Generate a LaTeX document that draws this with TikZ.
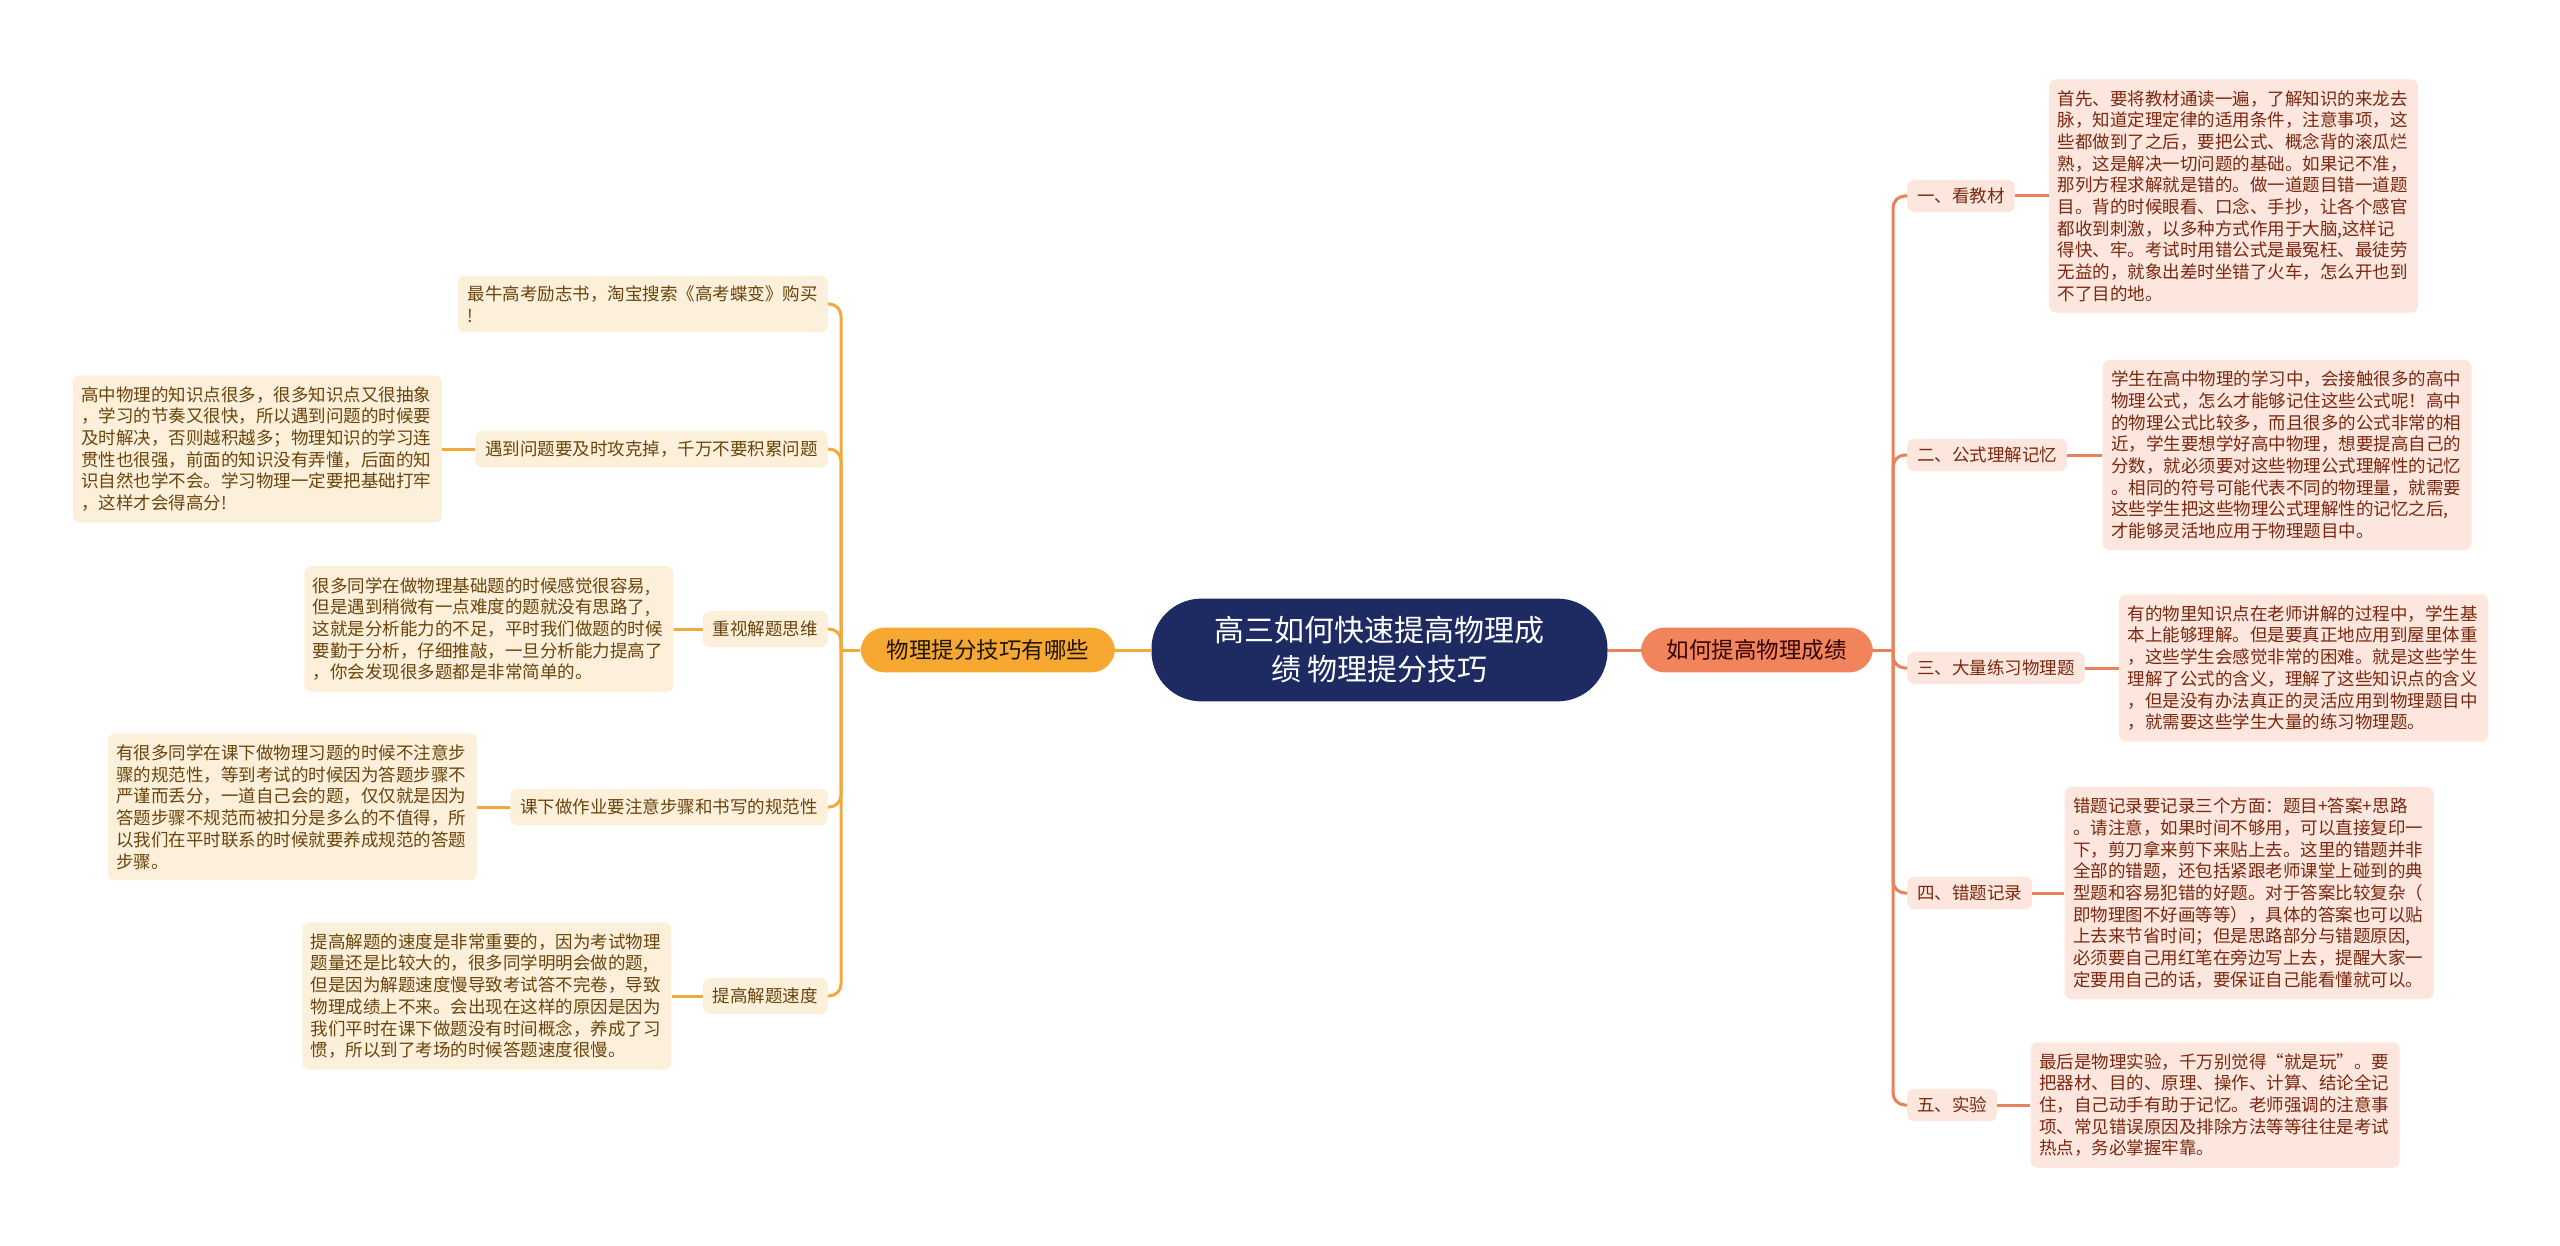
\documentclass[tikz,border=0pt]{standalone}
\usepackage{fontspec}
\newfontfamily\cjk{Noto Sans CJK SC}
\usetikzlibrary{positioning}
\definecolor{navy}{HTML}{1E2A62}
\definecolor{orangem}{HTML}{F6A830}
\definecolor{coralm}{HTML}{F2845C}
\definecolor{lfill}{HTML}{FDF0DA}
\definecolor{rfill}{HTML}{FCE6DD}
\definecolor{ltext}{HTML}{6A440C}
\definecolor{rtext}{HTML}{7A2810}
\definecolor{lcol}{HTML}{F2A93B}
\definecolor{rcol}{HTML}{E8825A}
\tikzset{
  centrenode/.style={fill=navy, text=white, rounded corners=50pt, inner xsep=63pt, inner ysep=18pt, align=center, font=\cjk\fontsize{30}{39}\selectfont},
  mainl/.style={fill=orangem, text=black!85!brown, rounded corners=24pt, inner xsep=26pt, inner ysep=12pt, font=\cjk\fontsize{22.5}{27}\selectfont},
  mainr/.style={fill=coralm, text=black!80!red, rounded corners=24pt, inner xsep=26pt, inner ysep=12pt, font=\cjk\fontsize{22.5}{27}\selectfont},
  lbranch/.style={fill=lfill, text=ltext, rounded corners=7pt, inner xsep=10pt, inner ysep=10pt, align=left, font=\cjk\fontsize{17.5}{21.7}\selectfont},
  rbranch/.style={fill=rfill, text=rtext, rounded corners=7pt, inner xsep=10pt, inner ysep=8pt, font=\cjk\fontsize{17.5}{21.7}\selectfont},
  lleaf/.style={fill=lfill, text=ltext, rounded corners=7pt, inner xsep=8.5pt, inner ysep=11pt, text width=352pt, align=left, font=\cjk\fontsize{17.5}{21.7}\selectfont},
  rleaf/.style={lleaf, fill=rfill, text=rtext},
  lline/.style={draw=lcol, line width=3pt},
  rline/.style={draw=rcol, line width=3pt}
}
\begin{document}
\begin{tikzpicture}[x=1pt,y=1pt]
\path[fill=white, use as bounding box] (0,0) rectangle (2560,-1246);

\node[centrenode] (centre) at (1379.5,-650) {高三如何快速提高物理成\\绩 物理提分技巧};
\node[mainl, left=36pt of centre] (mainL) {物理提分技巧有哪些};
\node[mainr, right=33pt of centre] (mainR) {如何提高物理成绩};

\node[lbranch, anchor=east] (l1) at (828,-304) {最牛高考励志书，淘宝搜索《高考蝶变》购买\\!};
\node[lbranch, anchor=east] (l2) at (828,-449) {遇到问题要及时攻克掉，千万不要积累问题};
\node[lbranch, anchor=east] (l3) at (828,-629) {重视解题思维};
\node[lbranch, anchor=east] (l4) at (828,-807) {课下做作业要注意步骤和书写的规范性};
\node[lbranch, anchor=east] (l5) at (828,-996) {提高解题速度};

\node[lleaf, left=33pt of l2] (ll2) {高中物理的知识点很多，很多知识点又很抽象\\，学习的节奏又很快，所以遇到问题的时候要\\及时解决，否则越积越多；物理知识的学习连\\贯性也很强，前面的知识没有弄懂，后面的知\\识自然也学不会。学习物理一定要把基础打牢\\，这样才会得高分!};
\node[lleaf, left=29pt of l3] (ll3) {很多同学在做物理基础题的时候感觉很容易,\\但是遇到稍微有一点难度的题就没有思路了,\\这就是分析能力的不足，平时我们做题的时候\\要勤于分析，仔细推敲，一旦分析能力提高了\\，你会发现很多题都是非常简单的。};
\node[lleaf, left=33pt of l4] (ll4) {有很多同学在课下做物理习题的时候不注意步\\骤的规范性，等到考试的时候因为答题步骤不\\严谨而丢分，一道自己会的题，仅仅就是因为\\答题步骤不规范而被扣分是多么的不值得，所\\以我们在平时联系的时候就要养成规范的答题\\步骤。};
\node[lleaf, left=31pt of l5] (ll5) {提高解题的速度是非常重要的，因为考试物理\\题量还是比较大的，很多同学明明会做的题,\\但是因为解题速度慢导致考试答不完卷，导致\\物理成绩上不来。会出现在这样的原因是因为\\我们平时在课下做题没有时间概念，养成了习\\惯，所以到了考场的时候答题速度很慢。};

\node[rbranch, anchor=west] (r1) at (1907,-196) {一、看教材};
\node[rbranch, anchor=west] (r2) at (1907,-455) {二、公式理解记忆};
\node[rbranch, anchor=west] (r3) at (1907,-668) {三、大量练习物理题};
\node[rbranch, anchor=west] (r4) at (1907,-893) {四、错题记录};
\node[rbranch, anchor=west] (r5) at (1907,-1105) {五、实验};

\node[rleaf, right=34pt of r1] (rl1) {首先、要将教材通读一遍，了解知识的来龙去\\脉，知道定理定律的适用条件，注意事项，这\\些都做到了之后，要把公式、概念背的滚瓜烂\\熟，这是解决一切问题的基础。如果记不准，\\那列方程求解就是错的。做一道题目错一道题\\目。背的时候眼看、口念、手抄，让各个感官\\都收到刺激，以多种方式作用于大脑,这样记\\得快、牢。考试时用错公式是最冤枉、最徒劳\\无益的，就象出差时坐错了火车，怎么开也到\\不了目的地。};
\node[rleaf, right=35pt of r2] (rl2) {学生在高中物理的学习中，会接触很多的高中\\物理公式，怎么才能够记住这些公式呢！高中\\的物理公式比较多，而且很多的公式非常的相\\近，学生要想学好高中物理，想要提高自己的\\分数，就必须要对这些物理公式理解性的记忆\\。相同的符号可能代表不同的物理量，就需要\\这些学生把这些物理公式理解性的记忆之后,\\才能够灵活地应用于物理题目中。};
\node[rleaf, right=34pt of r3] (rl3) {有的物里知识点在老师讲解的过程中，学生基\\本上能够理解。但是要真正地应用到屋里体重\\，这些学生会感觉非常的困难。就是这些学生\\理解了公式的含义，理解了这些知识点的含义\\，但是没有办法真正的灵活应用到物理题目中\\，就需要这些学生大量的练习物理题。};
\node[rleaf, right=32pt of r4] (rl4) {错题记录要记录三个方面：题目+答案+思路\\。请注意，如果时间不够用，可以直接复印一\\下，剪刀拿来剪下来贴上去。这里的错题并非\\全部的错题，还包括紧跟老师课堂上碰到的典\\型题和容易犯错的好题。对于答案比较复杂（\\即物理图不好画等等），具体的答案也可以贴\\上去来节省时间；但是思路部分与错题原因,\\必须要自己用红笔在旁边写上去，提醒大家一\\定要用自己的话，要保证自己能看懂就可以。};
\node[rleaf, right=33pt of r5] (rl5) {最后是物理实验，千万别觉得“就是玩”。要\\把器材、目的、原理、操作、计算、结论全记\\住，自己动手有助于记忆。老师强调的注意事\\项、常见错误原因及排除方法等等往往是考试\\热点，务必掌握牢靠。};

\coordinate (jl) at (841,-650);
\coordinate (jr) at (1893,-650);
\draw[lline] (centre.west) -- (mainL.east);
\draw[rline] (centre.east) -- (mainR.west);
\draw[lline] (mainL.west) -- (jl);
\draw[rline] (mainR.east) -- (jr);
\foreach \b in {l1,l2,l3,l4,l5}
  \draw[lline, rounded corners=12pt] (jl) |- (\b.east);
\foreach \r in {r1,r2,r3,r4,r5}
  \draw[rline, rounded corners=12pt] (jr) |- (\r.west);
\draw[lline] (l2.west) -- (ll2.east);
\draw[lline] (l3.west) -- (ll3.east);
\draw[lline] (l4.west) -- (ll4.east);
\draw[lline] (l5.west) -- (ll5.east);
\draw[rline] (r1.east) -- (rl1.west);
\draw[rline] (r2.east) -- (rl2.west);
\draw[rline] (r3.east) -- (rl3.west);
\draw[rline] (r4.east) -- (rl4.west);
\draw[rline] (r5.east) -- (rl5.west);
\end{tikzpicture}
\end{document}
